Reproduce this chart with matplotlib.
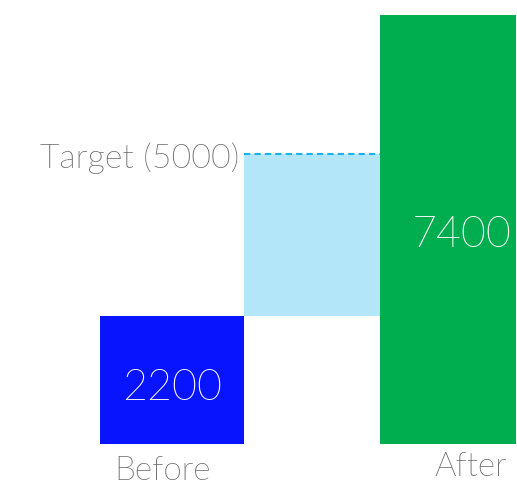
import matplotlib.pyplot as plt
from matplotlib import font_manager

# data
categories = ['Before', 'Gap', 'After']
before_value = 2200
target_value = 5000
after_value = 7400

# layout (pixels across the axes)
edges = [0, 144, 280]
widths = [144, 136, 136]

# pick Lato Light by file if present, otherwise regular Lato
light_path = None
for f in font_manager.fontManager.ttflist:
    p = f.fname.lower()
    if f.name == 'Lato' and 'light' in p and 'italic' not in p:
        light_path = f.fname
        break
if light_path:
    fp = font_manager.FontProperties(fname=light_path)
else:
    fp = font_manager.FontProperties(family='Lato', weight='normal')

fig = plt.figure(figsize=(5.17, 4.86), dpi=100)
# axes spans x 100..516 px, y baseline 444 px, top 15 px
ax = fig.add_axes([100 / 517, (486 - 444) / 486, 416 / 517, 429 / 486])

# before bar
ax.bar(edges[0], before_value, width=widths[0], align='edge', color='#0814fd')
# gap between before and target
ax.bar(edges[1], target_value - before_value, bottom=before_value,
       width=widths[1], align='edge', color='#b3e6f8')
# after bar
ax.bar(edges[2], after_value, width=widths[2], align='edge', color='#00ae50')

# target dashed line
ax.plot([edges[1], edges[2]], [target_value, target_value], color='#1ab2ea',
        linestyle=(0, (3, 2)), linewidth=1.5)

ax.set_xlim(0, 416)
ax.set_ylim(0, after_value)
ax.axis('off')

gray = '#666666'

ax.text(72, before_value / 2 - 150, f'{before_value}', color='white',
        fontproperties=fp, fontsize=31, ha='center', va='center')
ax.text(361, after_value / 2 - 100, f'{after_value}', color='white',
        fontproperties=fp, fontsize=31, ha='center', va='center')

ax.text(139, target_value - 70, f'Target ({target_value})', color=gray,
        fontproperties=fp, fontsize=24.5, ha='right', va='center')

ax.text(62, -470, 'Before', color=gray, fontproperties=fp,
        fontsize=24, ha='center', va='center', clip_on=False)
ax.text(371, -400, 'After', color=gray, fontproperties=fp,
        fontsize=24, ha='center', va='center', clip_on=False)

fig.savefig('out.png', dpi=100)
